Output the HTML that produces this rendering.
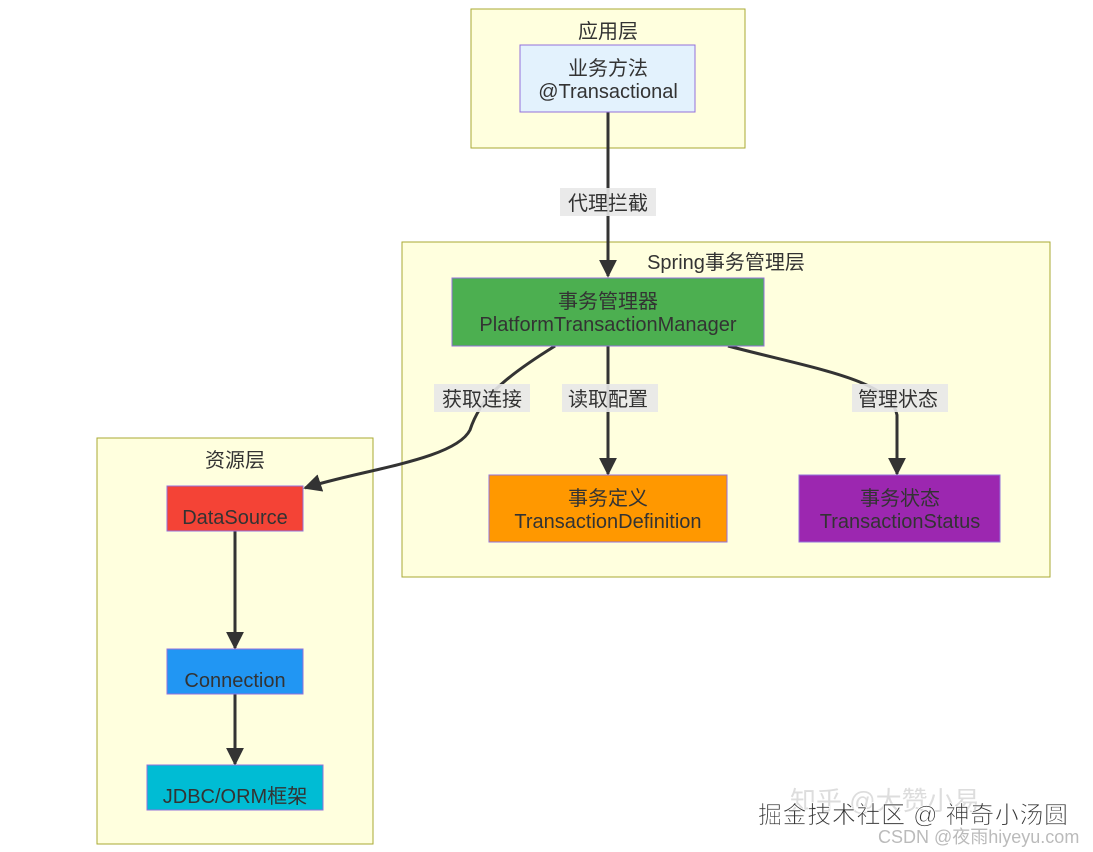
<!DOCTYPE html>
<html><head><meta charset="utf-8"><style>
html,body{margin:0;padding:0;background:#fff;}
svg{display:block;}
text{font-family:"Liberation Sans","Noto Sans CJK SC",sans-serif;fill:#333;}
</style></head><body>
<svg width="1093" height="852" viewBox="0 0 1093 852" xmlns="http://www.w3.org/2000/svg">
<defs><marker id="a" viewBox="0 0 10 10" refX="9" refY="5" markerWidth="6" markerHeight="6" orient="auto"><path d="M0,0L10,5L0,10z" fill="#333"/></marker></defs>
<rect x="471" y="9" width="274" height="139" fill="#ffffde" stroke="#aaaa33"/>
<text x="608" y="38" font-size="20" text-anchor="middle">应用层</text>
<rect x="402" y="242" width="648" height="335" fill="#ffffde" stroke="#aaaa33"/>
<text x="726" y="269" font-size="20" text-anchor="middle">Spring事务管理层</text>
<rect x="97" y="438" width="276" height="406" fill="#ffffde" stroke="#aaaa33"/>
<text x="235" y="467" font-size="20" text-anchor="middle">资源层</text>
<g stroke="#333" stroke-width="3" fill="none">
<path d="M608,112 V276" marker-end="url(#a)"/>
<path d="M608,346 V474" marker-end="url(#a)"/>
<path d="M555,346 C500,380 480,400 470,430 C455,460 360,470 305,488" marker-end="url(#a)"/>
<path d="M728,346 C820,370 890,380 897,415 V474" marker-end="url(#a)"/>
<path d="M235,531 V648" marker-end="url(#a)"/>
<path d="M235,694 V764" marker-end="url(#a)"/>
</g>
<rect x="560" y="188" width="96" height="28" fill="#e8e8e8" opacity="0.9"/>
<text x="608" y="210" font-size="20" text-anchor="middle">代理拦截</text>
<rect x="434" y="384" width="96" height="28" fill="#e8e8e8" opacity="0.9"/>
<text x="482" y="406" font-size="20" text-anchor="middle">获取连接</text>
<rect x="562" y="384" width="96" height="28" fill="#e8e8e8" opacity="0.9"/>
<text x="608" y="406" font-size="20" text-anchor="middle">读取配置</text>
<rect x="852" y="384" width="96" height="28" fill="#e8e8e8" opacity="0.9"/>
<text x="898" y="406" font-size="20" text-anchor="middle">管理状态</text>
<rect x="520" y="45" width="175" height="67" fill="#e3f2fd" stroke="#9370db"/>
<text x="608" y="75" font-size="20" text-anchor="middle">业务方法</text>
<text x="608" y="98" font-size="20" text-anchor="middle">@Transactional</text>
<rect x="452" y="278" width="312" height="68" fill="#4caf50" stroke="#9370db"/>
<text x="608" y="308" font-size="20" text-anchor="middle">事务管理器</text>
<text x="608" y="331" font-size="20" text-anchor="middle">PlatformTransactionManager</text>
<rect x="489" y="475" width="238" height="67" fill="#ff9800" stroke="#9370db"/>
<text x="608" y="505" font-size="20" text-anchor="middle">事务定义</text>
<text x="608" y="528" font-size="20" text-anchor="middle">TransactionDefinition</text>
<rect x="799" y="475" width="201" height="67" fill="#9c27b0" stroke="#9370db"/>
<text x="900" y="505" font-size="20" text-anchor="middle">事务状态</text>
<text x="900" y="528" font-size="20" text-anchor="middle">TransactionStatus</text>
<rect x="167" y="486" width="136" height="45" fill="#f44336" stroke="#9370db"/>
<text x="235" y="524" font-size="20" text-anchor="middle">DataSource</text>
<rect x="167" y="649" width="136" height="45" fill="#2196f3" stroke="#9370db"/>
<text x="235" y="687" font-size="20" text-anchor="middle">Connection</text>
<rect x="147" y="765" width="176" height="45" fill="#00bcd4" stroke="#9370db"/>
<text x="235" y="803" font-size="20" text-anchor="middle">JDBC/ORM框架</text>
<text x="790" y="810" font-size="26" style="fill:#ddd">知乎 @大赞小易</text>
<text x="758" y="823" font-size="24" textLength="310" style="fill:#333;stroke:#fff;stroke-width:0.8">掘金技术社区 @ 神奇小汤圆</text>
<text x="878" y="843" font-size="18" style="fill:#bbb">CSDN @夜雨hiyeyu.com</text>
</svg>
</body></html>
